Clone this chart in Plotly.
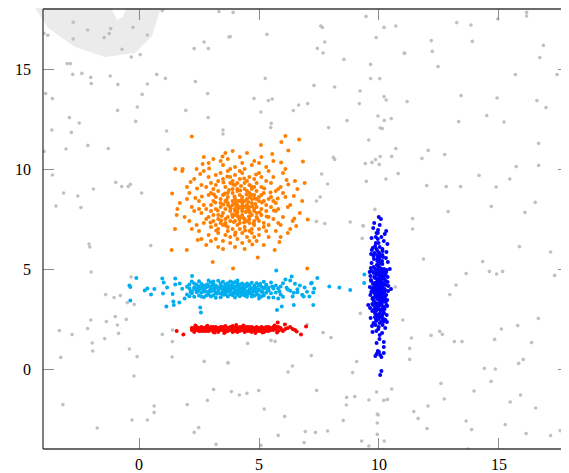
import plotly.graph_objects as go

# ---------------- data ----------------
X_TICKS = [0, 5, 10, 15]
Y_TICKS = [0, 5, 10, 15]
X_RANGE = [-4, 17.917]
Y_RANGE = [-4, 18]

GREY = [
    (0.97,17.92),(3.33,17.87),(-2.74,17.34),(-2.14,16.95),(-1.18,17.02),(-1.24,16.77),(-1.45,16.57),(-0.25,17.09),
    (-3.96,16.79),(-3.80,16.69),(-2.74,16.5),(0.35,16.7),(-0.71,15.99),(-0.32,15.6),(0.05,15.72),(2.30,16.02),
    (2.71,16.35),(2.89,16.02),(3.75,16.6),(-2.99,15.27),(-2.86,15.27),(-2.76,14.73),(-2.38,14.78),(-2.01,14.58),
    (-1.99,14.27),(-1.20,14.65),(-0.88,14.23),(0.74,14.73),(1.10,14.53),(0.35,14.25),(2.35,14.37),(-3.89,13.77),
    (-3.61,13.52),(0.13,13.73),(2.86,13.77),(-0.07,13.1),(-0.89,12.93),(1.95,12.93),(-2.90,12.57),(-2.49,12.3),
    (-0.14,12.38),(2.88,12.57),(-3.63,11.95),(-2.82,11.83),(1.15,11.9),(3.5,11.95),(3.5,11.75),(-3.96,10.88),
    (-3.04,11.0),(-2.13,11.18),(-1.28,11.02),(1.21,10.98),(-3.61,9.7),(-0.97,9.33),(-0.72,9.12),(-0.45,9.12),
    (-0.36,9.23),(-1.90,9.0),(0.11,8.8),(-3.14,8.8),(-2.55,8.65),(-3.46,8.15),(-2.42,8.07),
    (3.92,17.83),(9.46,17.63),(7.57,17.15),(7.64,17.08),(10.21,17.08),(10.70,17.15),(3.80,16.62),(5.33,16.73),
    (7.74,16.35),(9.88,16.57),(7.43,16.03),(7.67,15.8),(11.05,15.8),(8.54,15.48),(9.65,15.23),(5.26,14.53),
    (9.65,14.52),(10.03,14.52),(7.29,14.18),(8.15,14.1),(9.21,13.9),(4.79,13.53),(5.39,13.42),(5.55,13.5),
    (10.21,13.62),(10.30,13.45),(7.03,13.27),(6.65,13.2),(9.18,13.27),(5.08,12.85),(6.43,12.92),(9.96,12.65),
    (10.22,12.43),(10.51,12.52),(8.67,12.42),(5.51,12.28),(5.49,12.07),(7.90,12.07),(10.05,12.05),(10.14,12.02),
    (9.57,11.45),(10.70,11.02),(8.10,10.58),(8.15,10.48),(10.05,10.62),(9.86,10.47),(9.71,10.33),(9.43,10.27),
    (10.53,10.63),(10.01,10.23),(7.61,9.75),(10.80,9.77),(10.29,9.5),(9.47,9.38),(7.86,9.25),(7.55,8.6),
    (7.39,8.4),(9.83,7.98),(7.39,7.38),(7.74,7.27),(8.80,7.35),(9.33,7.17),
    (16.15,17.83),(16.15,17.65),(14.95,17.5),(13.24,17.32),(13.83,17.2),(12.18,16.42),(13.89,16.38),(16.85,16.18),
    (11.07,15.78),(12.22,15.88),(16.70,15.57),(12.46,15.12),(15.68,14.72),(17.42,14.72),(13.42,13.67),(14.92,13.55),
    (11.17,13.37),(16.58,13.42),(16.96,13.07),(14.49,12.67),(13.32,12.37),(15.21,12.35),(16.65,11.28),(12.05,10.93),
    (11.79,10.53),(12.74,10.72),(15.72,10.12),(16.65,10.18),(14.17,9.68),(15.45,9.5),(11.99,9.17),(12.80,9.12),
    (13.40,9.12),(14.88,9.1),(16.51,8.33),(14.68,8.13),(12.88,7.87),(16.08,7.83),(11.40,7.52),(11.40,7.0),
    (-2.08,6.25),(-2.05,6.1),(0.49,6.17),(-1.99,4.85),(-0.33,4.6),(-1.39,3.72),(-1.04,3.57),(-0.78,3.67),
    (-0.49,3.32),(-0.20,3.23),(-0.99,2.62),(-0.53,2.48),(-2.01,2.45),(-1.36,2.37),(-0.90,2.2),(-2.14,2.02),
    (-3.32,1.92),(-2.79,1.72),(-0.85,1.78),(0.97,1.73),(1.40,1.95),(-1.43,1.52),(-1.95,1.3),(1.39,1.37),
    (-1.93,0.9),(-0.40,1.0),(-3.26,0.58),(-0.08,0.62),(1.38,0.6),(2.72,0.38),(3.70,0.3),(-0.21,-0.35),
    (3.11,-1.02),(2.85,-1.57),(-3.17,-1.78),(0.63,-1.85),(2.01,-1.78),(0.63,-2.17),(-0.29,-2.55),(0.35,-2.55),
    (-1.74,-2.95),(2.49,-2.93),(2.30,-3.17),(3.21,-3.77),
    (9.35,7.15),(9.30,6.53),(10.68,4.1),(9.22,2.78),(10.99,2.45),(7.01,2.22),(7.67,1.82),(8.0,1.57),
    (5.5,1.43),(5.67,1.38),(4.53,1.28),(7.18,0.67),(9.07,0.37),(3.71,0.32),(6.39,0.15),(6.21,-0.15),
    (8.90,-0.18),(10.53,-1.0),(9.90,-1.15),(3.85,-1.13),(4.18,-1.3),(4.5,-1.22),(4.99,-1.08),(7.40,-1.07),
    (8.65,-1.42),(8.99,-1.38),(9.58,-1.55),(10.20,-1.57),(10.35,-1.52),(8.64,-1.8),(5.22,-2.0),(6.07,-2.37),
    (9.93,-2.25),(9.97,-2.3),(8.51,-2.57),(9.93,-2.7),(6.93,-3.13),(7.35,-3.17),(7.86,-3.1),(5.80,-3.32),
    (9.93,-3.27),(9.28,-3.6),(10.22,-3.6),(6.88,-3.68),(9.58,-3.85),(5.08,-3.82),
    (15.85,6.12),(17.15,5.85),(11.85,5.5),(14.32,5.37),(14.60,4.88),(14.90,4.75),(15.15,4.88),(13.63,4.77),
    (17.32,4.68),(13.21,4.2),(12.95,3.72),(16.64,2.53),(15.10,2.0),(15.78,2.17),(11.35,1.55),(12.17,1.68),
    (12.53,1.88),(12.64,1.73),(13.14,1.37),(13.46,1.37),(14.82,1.48),(16.36,1.32),(11.28,1.03),(11.28,0.48),
    (16.01,0.48),(15.82,0.28),(14.39,0.03),(14.85,0.0),(14.67,-0.62),(12.58,-0.72),(13.96,-1.1),(12.72,-1.5),
    (15.90,-1.3),(15.47,-1.65),(12.04,-1.85),(16.53,-1.95),(11.45,-2.13),(11.63,-2.47),(13.63,-2.6),(12.0,-2.98),
    (13.86,-3.03),(15.26,-2.78),(16.13,-3.23),(17.15,-3.33),(17.55,-3.08),(13.71,-4.0),
]

ORANGE = [
    (4.1,8.2),(3.6,7.5),(4.5,8.9),(2.8,8.0),(5.2,7.3),(3.9,9.4),(4.7,6.8),(3.2,8.6),(4.3,7.7),(5.6,8.4),
    (2.4,7.2),(4.0,10.1),(3.5,6.4),(4.8,8.0),(3.0,9.3),(5.1,9.6),(4.4,7.1),(3.7,8.3),(2.1,8.8),(6.0,7.6),
    (4.2,8.7),(3.3,7.0),(4.6,9.2),(3.8,7.9),(5.4,6.6),(2.7,9.9),(4.9,8.5),(3.4,8.1),(4.0,6.1),(5.8,9.0),
    (3.1,7.4),(4.3,9.8),(4.6,7.5),(2.5,8.4),(5.0,10.3),(3.7,6.9),(4.1,7.8),(6.3,8.2),(3.9,8.8),(2.9,6.7),
    (4.4,8.4),(5.3,7.9),(3.6,9.1),(4.8,7.2),(1.9,7.6),(4.2,10.6),(3.3,8.9),(5.7,6.9),(4.0,7.4),(3.5,10.2),
    (4.7,8.3),(2.6,7.8),(5.1,8.7),(3.8,6.6),(4.5,7.9),(6.5,9.4),(3.2,9.7),(4.9,6.4),(4.1,9.0),(2.3,9.5),
    (4.6,8.6),(3.0,7.1),(5.5,8.1),(3.7,10.5),(4.3,6.8),(5.9,7.2),(3.4,8.5),(4.8,9.5),(2.8,6.2),(4.2,7.6),
    (5.2,8.8),(3.9,7.0),(4.4,10.0),(1.7,8.3),(5.0,7.0),(3.6,8.0),(6.1,8.6),(4.0,8.5),(3.1,9.0),(4.7,7.7),
    (5.4,9.9),(2.2,7.0),(4.5,8.2),(3.8,9.6),(4.1,6.5),(5.6,7.5),(3.3,7.7),(4.9,8.9),(2.6,9.2),(4.3,8.0),
    (3.5,6.0),(5.3,10.1),(4.0,7.9),(6.7,7.8),(3.9,8.4),(4.6,6.9),(2.9,8.7),(5.0,8.4),(3.2,6.5),(4.4,9.3),
    (4.8,7.4),(3.7,8.6),(5.7,8.9),(2.0,9.1),(4.2,7.3),(3.4,10.4),(5.1,7.7),(4.5,10.8),(3.0,7.9),(4.7,9.0),
    (6.2,6.8),(3.6,7.3),(4.1,8.9),(2.7,8.2),(5.5,9.3),(3.8,8.1),(4.3,6.3),(5.2,7.1),(3.1,8.4),(4.6,7.9),
    (2.4,10.0),(4.9,8.1),(3.5,9.5),(6.0,9.8),(4.0,9.7),(3.3,6.8),(5.8,8.0),(4.4,7.5),(2.8,7.5),(4.8,10.4),
    (3.7,7.6),(5.0,6.7),(4.2,8.4),(1.5,7.0),(3.9,10.9),(5.4,8.5),(4.6,8.8),(3.2,8.0),(6.4,7.4),(4.1,7.2),
    (2.9,9.6),(5.3,8.2),(3.6,6.7),(4.7,8.5),(4.0,8.0),(5.9,9.1),(3.4,7.3),(4.5,6.6),(2.5,8.0),(5.1,9.1),
    (3.8,9.3),(4.3,8.6),(6.8,8.4),(3.0,8.8),(4.8,7.9),(3.5,7.8),(5.6,10.4),(4.2,9.5),(2.3,7.9),(4.9,7.6),
    (3.7,9.9),(5.2,6.2),(4.4,8.1),(3.1,10.5),(5.7,7.9),(4.0,6.7),(2.7,7.3),(4.6,9.6),(3.9,7.6),(6.1,10.0),
    (3.3,9.4),(4.7,7.0),(5.0,9.8),(2.0,8.5),(4.1,8.4),(3.6,10.8),(5.4,7.6),(4.5,7.4),(3.2,7.2),(6.6,9.0),
    (4.3,7.9),(2.6,6.5),(4.8,8.7),(3.8,6.3),(5.3,9.4),(4.0,9.2),(3.4,8.3),(5.9,6.6),(4.6,8.1),(2.9,10.3),
    (4.2,7.0),(5.1,8.0),(3.7,8.8),(1.8,9.9),(4.9,9.3),(3.5,7.2),(6.3,7.0),(4.4,9.0),(3.0,6.4),(5.5,8.6),
    (4.1,7.9),(3.9,9.0),(4.7,10.2),(2.2,8.1),(5.2,8.4),(3.3,7.5),(4.5,8.5),(6.9,9.3),(3.6,8.4),(4.0,7.7),
    (5.8,7.3),(2.8,9.1),(4.3,10.3),(3.1,7.7),(4.8,6.6),(5.0,8.6),(3.8,7.4),(4.2,8.1),(6.2,8.1),(2.5,6.9),
    (3.4,9.8),(4.6,7.3),(5.6,9.6),(3.9,8.2),(4.4,6.0),(3.0,8.2),(5.3,6.9),(4.1,9.3),(2.1,7.4),(4.7,8.7),
    (3.7,7.1),(5.1,10.6),(4.5,9.4),(3.2,9.2),(6.0,8.8),(4.0,8.3),(2.7,10.6),(4.9,7.8),(3.5,8.7),(5.4,7.2),
    (4.3,8.3),(3.8,10.0),(4.6,6.4),(1.6,8.0),(5.7,8.3),(3.3,6.1),(4.2,9.9),(5.0,7.4),(2.9,7.6),(4.8,9.1),
    (4.15,8.05),(3.65,8.45),(4.35,7.55),(3.95,7.35),(4.55,8.35),(3.45,7.65),(4.85,8.25),(3.75,8.95),(4.25,9.15),(4.45,7.85),
    (2.35,8.55),(2.55,9.75),(2.15,9.35),(2.45,6.45),(5.85,6.35),(6.15,9.45),(6.45,8.65),(5.55,10.75),(2.65,10.25),(6.55,7.15),
    (4.05,8.15),(4.62,7.82),(3.52,8.22),(4.28,8.48),(3.88,7.72),(4.72,8.12),(4.38,7.32),(3.58,8.78),(4.92,7.52),(3.28,7.92),
    (4.48,8.72),(4.18,7.48),(3.72,8.18),(4.82,8.52),(3.98,8.62),(4.58,7.62),(3.42,7.42),(5.12,8.32),(4.22,8.92),(3.82,8.02),
    (4.68,9.12),(3.62,7.18),(4.32,8.18),(5.02,7.82),(3.92,9.22),(4.42,6.92),(3.18,8.32),(4.78,7.28),(4.12,7.62),(5.22,9.02),
    (3.52,9.32),(4.52,8.02),(3.12,8.72),(5.32,7.62),(4.02,6.82),(4.88,9.72),(3.68,9.62),(2.98,7.32),(5.48,8.82),(4.38,9.52),
    (2.62,8.62),(5.62,7.92),(3.22,6.92),(4.72,6.22),(3.48,10.62),(5.78,8.52),(2.42,9.02),(6.22,9.22),(2.92,10.02),(5.92,10.32),
    (5.08,11.2),(6.10,11.65),(5.93,11.35),(6.67,11.47),(6.22,10.92),(6.83,10.38),(2.20,11.63),(1.51,10.0),(1.82,10.0),(1.38,8.78),
    (1.57,7.7),(1.36,5.95),(1.99,5.95),(7.03,7.48),(6.47,7.53),(3.07,5.35),(4.95,5.58),(5.65,5.95),(3.92,5.03),(7.01,5.03),
]

CYAN = [
    (2.3,4.08),(3.1,3.93),(4.2,4.01),(2.8,4.17),(3.6,3.82),(4.9,4.06),(2.5,3.91),(3.4,4.27),(4.5,3.74),(5.2,4.02),
    (2.1,4.03),(3.8,4.12),(4.0,3.88),(2.9,3.71),(3.3,4.04),(5.5,3.79),(2.6,4.26),(4.4,4.19),(3.7,3.63),(4.8,3.92),
    (2.4,3.84),(3.0,4.01),(4.1,4.28),(5.0,3.69),(3.5,4.09),(2.2,4.37),(4.6,3.98),(3.9,3.81),(5.3,4.21),(2.7,3.97),
    (3.2,4.18),(4.3,3.83),(5.8,4.03),(2.0,3.72),(3.6,4.02),(4.7,4.31),(3.0,3.62),(4.0,4.11),(5.1,3.89),(2.5,4.13),
    (3.4,3.78),(4.2,3.64),(6.0,4.29),(2.8,3.87),(3.8,4.38),(4.9,3.73),(3.1,4.07),(4.5,4.14),(2.3,3.61),(5.4,4.08),
    (3.7,3.99),(4.1,3.71),(2.6,3.83),(3.3,4.41),(5.6,3.58),(4.4,3.91),(2.9,4.12),(3.9,4.22),(4.8,4.03),(2.1,4.23),
    (3.5,3.88),(5.0,4.19),(4.6,3.77),(2.7,3.59),(3.2,3.81),(6.3,3.91),(4.0,3.96),(3.6,4.24),(5.2,3.68),(2.4,4.21),
    (3.0,4.33),(4.3,4.09),(4.7,3.62),(3.8,3.92),(2.2,3.89),(5.7,4.18),(3.4,4.02),(4.2,4.23),(2.8,3.68),(3.9,4.04),
    (6.6,3.84),(4.5,3.87),(3.1,3.69),(5.0,3.98),(2.5,3.67),(3.7,4.29),(4.1,4.12),(2.9,4.43),(5.4,3.93),(3.3,3.87),
    (4.6,4.21),(6.9,4.07),(3.5,3.71),(2.3,4.01),(4.0,3.57),(4.8,4.16),(3.2,4.13),(5.9,3.72),(2.6,4.04),(3.6,3.73),
    (4.4,4.04),(7.1,3.62),(3.8,4.07),(2.0,4.11),(4.2,3.82),(5.5,4.32),(3.0,3.89),(4.9,3.84),(2.7,4.18),(3.4,4.16),
    (6.2,3.98),(4.3,4.27),(3.9,3.69),(5.3,3.81),(2.4,3.93),(3.1,4.22),(4.7,4.01),(6.5,4.26),(3.5,3.97),(2.2,3.79),
    (4.1,3.94),(5.1,4.11),(3.7,3.86),(2.8,4.09),(4.5,3.61),(6.8,3.71),(3.2,3.56),(4.0,4.34),(5.6,4.02),(2.9,3.82),
    (3.6,4.14),(4.4,3.68),(7.3,4.02),(3.3,4.08),(4.8,3.66),(2.5,4.39),(5.8,3.52),(4.2,3.92),(3.8,3.74),(6.1,4.48),
    (2.1,3.64),(3.0,4.12),(4.6,3.91),(5.2,4.36),(3.4,3.59),(6.4,3.63),(4.0,3.79),(2.7,3.88),(4.9,4.29),(3.9,4.33),
    (5.0,3.53),(3.1,4.38),(6.7,4.17),(4.3,3.72),(2.3,4.28),(5.7,3.83),(3.7,4.19),(4.5,4.27),(2.6,3.63),(7.2,4.31),
    (6.0,3.61),(5.4,3.57),(6.3,4.42),(4.7,3.79),(5.9,4.13),(3.5,4.36),(6.6,3.99),(5.1,3.62),(4.1,4.42),(7.0,3.86),
    (2.45,4.05),(3.15,3.98),(3.75,4.06),(4.25,3.94),(4.85,4.02),(5.35,3.96),(2.95,3.92),(3.45,4.12),(4.05,3.86),(4.65,4.08),
    (5.15,3.84),(2.65,4.12),(3.25,3.76),(3.85,4.18),(4.35,4.04),(4.95,3.94),(5.55,4.12),(2.15,3.86),(2.85,4.24),(3.55,3.92),
    (4.15,4.16),(4.75,3.88),(5.25,4.09),(5.85,3.89),(6.15,4.06),(3.05,4.06),(3.65,3.96),(4.45,3.78),(5.05,4.26),(6.45,3.81),
    (-0.11,4.55),(-0.40,4.17),(-0.36,4.10),(-0.36,3.43),(0.24,3.93),(0.35,4.02),(0.50,3.73),(0.64,4.00),(0.97,4.53),(1.03,4.32),
    (1.17,4.08),(1.00,3.77),(1.14,3.13),(1.40,3.75),(1.51,4.52),(1.51,4.23),(1.43,3.37),(1.45,3.20),(1.68,3.33),(2.21,4.65),
    (2.55,3.08),(2.58,2.83),(1.80,4.01),(1.90,3.52),(1.70,4.27),(7.26,3.20),(7.43,4.55),(7.17,4.28),(7.26,3.83),(6.86,3.62),
    (6.36,4.62),(5.72,4.92),(5.75,2.95),(5.95,3.12),(6.45,3.20),(7.93,4.12),(8.35,4.08),(8.80,3.95),(9.39,4.73),(9.38,4.30),
]

RED = [
    (2.3,2.0),(2.6,1.95),(3.0,2.05),(3.3,1.9),(3.5,2.0),(3.8,2.1),(4.1,1.95),(4.4,2.0),(4.7,2.05),(5.0,1.9),
    (5.3,2.0),(5.6,1.95),(5.9,2.05),(2.4,2.1),(2.8,1.9),(3.1,2.0),(3.6,1.95),(3.9,2.0),(4.2,2.1),(4.5,1.9),
    (4.8,2.0),(5.1,2.1),(5.4,1.9),(5.7,2.0),(2.2,1.95),(2.7,2.05),(3.2,2.1),(3.4,1.95),(3.7,2.05),(4.0,1.9),
    (4.3,2.05),(4.6,1.95),(4.9,2.1),(5.2,1.95),(5.5,2.05),(5.8,1.9),(2.5,1.9),(2.9,2.0),(3.3,2.05),(3.6,1.85),
    (3.9,2.15),(4.2,1.9),(4.5,2.1),(4.8,1.95),(5.1,2.0),(5.4,2.1),(2.3,1.85),(2.6,2.1),(3.0,1.95),(3.4,2.1),
    (3.8,1.95),(4.1,2.05),(4.4,1.85),(4.7,1.95),(5.0,2.05),(5.3,1.9),(5.6,2.1),(2.4,1.95),(2.8,2.1),(3.1,1.85),
    (3.5,2.1),(3.9,1.85),(4.3,1.95),(4.6,2.1),(4.9,1.9),(5.2,2.05),(5.5,1.95),(2.2,2.05),(2.7,1.9),(3.2,1.95),
    (3.7,1.9),(4.0,2.05),(4.4,2.1),(4.8,2.05),(5.0,1.95),(5.3,2.1),(2.5,2.05),(2.9,1.9),(3.4,2.0),(3.6,2.15),
    (4.1,1.85),(4.5,2.0),(4.7,1.85),(5.1,1.9),(5.7,2.1),(2.3,2.05),(3.0,2.1),(3.3,1.85),(3.8,2.0),(4.2,2.0),
    (4.6,1.9),(4.9,2.0),(5.4,2.0),(2.6,1.9),(3.1,2.1),(3.5,1.95),(3.9,2.05),(4.3,2.1),(4.7,2.1),(5.2,1.85),
    (6.1,2.0),(6.3,2.1),(6.5,1.95),(6.0,1.9),(6.2,2.05),(5.8,2.1),(5.95,1.95),(6.4,2.0),
    (2.45,2.02),(2.95,1.98),(3.45,2.03),(3.95,1.97),(4.45,2.03),(4.95,1.98),(5.45,2.02),(2.75,2.0),(3.25,2.0),(3.75,2.0),
    (2.35,2.18),(3.15,1.82),(4.05,2.2),(4.85,1.8),(5.65,2.17),(2.85,2.16),(3.55,1.8),(4.35,2.18),(5.15,1.82),(5.75,1.83),
    (1.57,1.90),(1.85,1.73),(2.38,1.95),(5.78,2.33),(6.08,2.23),(6.57,1.87),(6.75,1.73),(6.96,2.12),
]

BLUE = [
    (10.02,4.0),(9.91,3.6),(10.08,4.4),(9.82,4.1),(10.19,3.8),(9.98,5.0),(9.88,2.9),(10.12,3.3),(10.04,4.6),(9.71,3.9),
    (10.28,4.2),(9.96,3.1),(9.93,5.4),(10.11,2.6),(10.01,4.8),(9.79,3.4),(10.22,4.5),(9.86,4.2),(10.14,5.7),(9.99,3.7),
    (9.77,2.3),(10.24,3.5),(10.03,6.1),(9.89,4.7),(10.09,3.9),(9.97,2.0),(9.68,4.4),(10.31,3.2),(10.05,5.3),(9.92,3.0),
    (10.13,4.1),(9.95,6.5),(9.81,3.8),(10.18,4.9),(9.87,2.5),(10.07,4.3),(10.02,3.4),(9.94,5.9),(10.12,3.0),(9.98,4.2),
    (9.78,5.1),(10.21,2.8),(10.04,3.9),(9.90,6.8),(10.10,4.6),(9.97,2.7),(9.73,3.5),(10.27,4.7),(10.01,5.5),(9.88,3.9),
    (10.15,2.2),(9.99,4.4),(9.80,4.6),(10.20,3.1),(9.91,5.2),(10.08,3.7),(10.03,7.2),(9.86,3.3),(10.11,5.0),(9.96,3.6),
    (9.83,2.8),(10.17,5.6),(10.00,4.1),(9.89,1.9),(10.13,4.8),(10.05,3.2),(9.70,4.9),(10.30,3.7),(9.98,6.3),(9.93,4.4),
    (10.09,2.4),(10.02,5.1),(9.76,3.2),(10.23,4.0),(9.88,3.7),(10.14,6.0),(9.97,2.5),(9.92,4.5),(10.06,3.5),(10.01,5.8),
    (9.81,4.3),(10.19,2.5),(9.99,4.3),(9.87,6.3),(10.10,4.0),(10.03,1.7),(9.62,4.1),(10.38,3.9),(9.96,5.6),(9.90,2.7),
    (10.12,4.5),(10.04,3.8),(9.79,5.5),(10.22,3.4),(9.94,4.0),(10.08,7.5),(9.98,3.0),(9.85,5.0),(10.16,2.9),(10.00,4.7),
    (9.82,3.6),(10.20,6.4),(10.03,2.3),(9.91,4.8),(10.11,3.2),(9.97,5.2),(9.72,2.9),(10.29,4.4),(10.02,3.5),(9.89,6.0),
    (10.07,4.2),(9.99,2.1),(9.78,4.8),(10.24,3.6),(9.93,3.5),(10.13,5.4),(10.01,4.5),(9.86,2.2),(10.09,3.8),(9.95,6.8),
    (9.80,3.0),(10.18,4.6),(10.05,3.3),(9.92,5.7),(10.14,2.7),(9.98,4.0),(9.64,3.7),(10.36,4.6),(10.02,1.5),(9.88,4.3),
    (10.10,6.6),(9.96,3.6),(9.83,2.6),(10.21,5.0),(9.90,3.8),(10.12,4.7),(10.04,2.8),(9.87,6.6),(10.07,3.4),(9.97,5.4),
    (9.79,4.0),(10.23,3.0),(10.00,4.9),(9.94,3.1),(10.15,5.9),(10.03,3.9),(9.69,5.3),(10.32,2.7),(9.99,7.6),(9.91,4.1),
    (10.11,3.6),(10.02,2.6),(9.81,5.8),(10.19,4.3),(9.88,2.4),(10.09,4.9),(9.98,3.5),(9.93,5.5),(10.13,1.8),(10.04,4.6),
    (9.85,3.85),(10.15,4.15),(9.95,4.35),(10.05,3.65),(9.84,4.55),(10.16,3.45),(9.94,3.25),(10.06,4.85),(9.75,4.25),(10.25,3.95),
    (9.96,5.15),(10.07,2.95),(9.86,3.15),(10.14,5.25),(9.97,4.05),(10.03,3.35),(9.74,3.55),(10.26,4.75),(9.95,2.65),(10.05,5.65),
    (9.84,6.15),(10.17,2.35),(9.96,6.95),(10.04,4.25),(9.85,4.95),(10.16,3.75),(9.92,3.95),(10.08,4.45),(9.66,4.45),(10.34,3.45),
    (9.63,3.05),(10.37,5.35),(9.67,5.75),(10.33,2.35),(9.61,4.85),(10.39,4.15),(9.65,2.55),(10.35,6.25),(9.69,6.55),(10.31,5.85),
    (9.72,3.25),(10.28,3.35),(9.64,4.65),(10.36,4.35),(9.71,2.15),(10.29,5.55),(9.74,6.05),(10.26,2.05),(9.68,3.85),(10.32,4.95),
    (9.76,7.05),(10.24,6.75),(9.73,1.85),(10.27,2.45),(9.66,5.05),(10.34,3.15),(9.70,4.05),(10.30,4.85),(9.77,5.65),(10.23,3.85),
    (10.00,0.85),(9.90,0.75),(10.10,0.60),(9.95,0.90),(10.05,0.70),(10.20,0.80),(9.85,0.65),(10.10,-0.10),(10.05,-0.30),(10.20,1.10),
    (9.70,5.95),(10.45,5.0),(9.55,3.2),(10.50,4.0),(10.30,6.9),(9.80,7.3),(10.20,1.35),(9.90,1.30),
]

SERIES = [
    ("grey", GREY, "#c0c0c0", 3.6),
    ("orange", ORANGE, "#ff8000", 4.0),
    ("cyan", CYAN, "#00aeef", 4.0),
    ("red", RED, "#ff0000", 4.0),
    ("blue", BLUE, "#0000ff", 4.0),
]

# ---------------- figure ----------------
# the page body adds an 8px offset; the figure is sized to fit the window
OFF = 8
W, H = 569 - OFF, 473 - OFF
ML, MR, MT, MB = 43 - OFF, 0, 9 - OFF, 24

fig = go.Figure()
for name, pts, color, size in SERIES:
    xs = [p[0] for p in pts]
    ys = [p[1] for p in pts]
    fig.add_trace(go.Scatter(x=xs, y=ys, mode="markers", name=name,
                             marker=dict(color=color, size=size, line=dict(width=0)),
                             hoverinfo="skip"))

font = dict(family="Liberation Serif, DejaVu Serif, serif", size=16, color="#000000")
axis_common = dict(
    showgrid=False, zeroline=False, showline=False,
    ticks="inside", ticklen=11, tickwidth=1, tickcolor="#8c8c8c",
    mirror="ticks", tickfont=font,
)
fig.update_xaxes(range=X_RANGE, tickvals=X_TICKS, ticktext=[str(v) for v in X_TICKS],
                 ticklabelstandoff=4, **axis_common)
fig.update_yaxes(range=Y_RANGE, tickvals=Y_TICKS, ticktext=[str(v) for v in Y_TICKS],
                 ticklabelstandoff=11, **axis_common)

# frame lines: left, bottom, top (the right edge lies just outside the picture)
line_style = dict(color="#3a3a3a", width=1.3)
fig.add_shape(type="line", xref="paper", yref="paper", x0=0, x1=0, y0=0, y1=1, line=line_style, layer="above")
fig.add_shape(type="line", xref="paper", yref="paper", x0=0, x1=1, y0=0, y1=0, line=line_style, layer="above")
fig.add_shape(type="line", xref="paper", yref="paper", x0=0, x1=1, y0=1, y1=1, line=line_style, layer="above")

# faint watermark swoosh in the top-left corner (decoration), given in window pixels
PW, PH = W - ML - MR, H - MT - MB
def to_paper(px, py):
    return (px - OFF - ML) / PW, (H - MB - (py - OFF)) / PH
outline = [(30, 0), (48, 28), (75, 47), (105, 57), (135, 53), (152, 36), (163, 0),
           (129, 0), (123, 17), (117, 20), (112, 10), (108, 0)]
path = "M " + " L ".join("%.4f,%.4f" % to_paper(*p) for p in outline) + " Z"
fig.add_shape(type="path", xref="paper", yref="paper", path=path,
              fillcolor="#ebebeb", line=dict(width=0), layer="below")

fig.update_layout(
    width=W, height=H,
    margin=dict(l=ML, r=MR, t=MT, b=MB, pad=0),
    paper_bgcolor="white", plot_bgcolor="rgba(0,0,0,0)",
    showlegend=False,
)

fig.write_html("out.html")
